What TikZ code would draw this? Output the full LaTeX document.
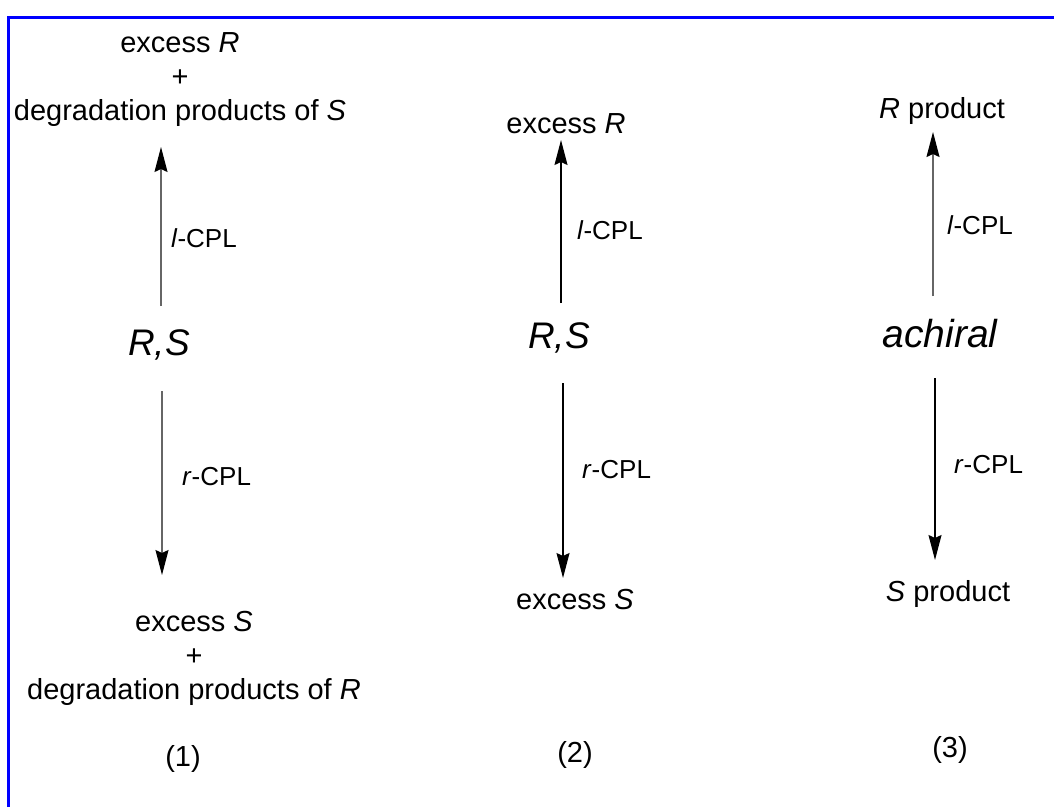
\documentclass[tikz,border=0pt]{standalone}
\usepackage{fontspec}
\setmainfont{Liberation Sans}
\usetikzlibrary{arrows.meta}
\tikzset{
  txt/.style={inner sep=0pt, align=center, font=\fontsize{29}{34}\selectfont},
  big/.style={inner sep=0pt, font=\fontsize{37}{42}\selectfont\itshape},
  lbl/.style={inner sep=0pt, anchor=west, font=\fontsize{26}{30}\selectfont},
  tip/.style={-{Stealth[length=25pt,width=13pt,inset=3pt,color=black,fill=black]}},
  arr/.style={line width=1.3pt, tip},
  grayarr/.style={line width=1.3pt, draw=black!60, tip},
  frame/.style={draw={rgb,255:red,0;green,0;blue,255}, line width=3pt}
}
\begin{document}
\begin{tikzpicture}[x=1pt,y=-1pt]
\useasboundingbox (0,0) rectangle (1054,806);
\fill[white] (0,0) rectangle (1054,806);
\draw[frame] (8,808) -- (8,17) -- (1056,17);

% column 1
\node[txt] (top1) at (180,80) {excess \textit{R}\\+\\degradation products of \textit{S}};
\node[big] (rs1) at (159,345) {R,S};
\node[txt] (bot1) at (194,658) {excess \textit{S}\\+\\degradation products of \textit{R}};
\node[txt] (n1) at (183,759) {(1)};
\coordinate (u1s) at (161,306);
\coordinate (u1e) at (161,147);
\coordinate (d1s) at (162,391);
\coordinate (d1e) at (162,575);
\draw[grayarr] (u1s) -- (u1e);
\draw[grayarr] (d1s) -- (d1e);
\node[lbl] (l1) at (171,238) {\textit{l}-CPL};
\node[lbl] (r1) at (182,477) {\textit{r}-CPL};

% column 2
\node[txt] (top2) at (566,124) {excess \textit{R}};
\node[big] (rs2) at (559,338) {R,S};
\node[txt] (bot2) at (575,600) {excess \textit{S}};
\node[txt] (n2) at (575,755) {(2)};
\coordinate (u2s) at (561,303);
\coordinate (u2e) at (561,140);
\coordinate (d2s) at (563,383);
\coordinate (d2e) at (563,578);
\draw[arr] (u2s) -- (u2e);
\draw[arr] (d2s) -- (d2e);
\node[lbl] (l2) at (577,230) {\textit{l}-CPL};
\node[lbl] (r2) at (582,470) {\textit{r}-CPL};

% column 3
\node[txt] (top3) at (942,111) {\textit{R} product};
\node[big, font=\fontsize{39}{44}\selectfont\itshape] (ach) at (940,334) {achiral};
\node[txt] (bot3) at (948,594) {\textit{S} product};
\node[txt] (n3) at (950,750) {(3)};
\coordinate (u3s) at (933,296);
\coordinate (u3e) at (933,132);
\coordinate (d3s) at (935,378);
\coordinate (d3e) at (935,560);
\draw[grayarr] (u3s) -- (u3e);
\draw[arr] (d3s) -- (d3e);
\node[lbl] (l3) at (947,225) {\textit{l}-CPL};
\node[lbl] (r3) at (954,465) {\textit{r}-CPL};
\end{tikzpicture}
\end{document}
